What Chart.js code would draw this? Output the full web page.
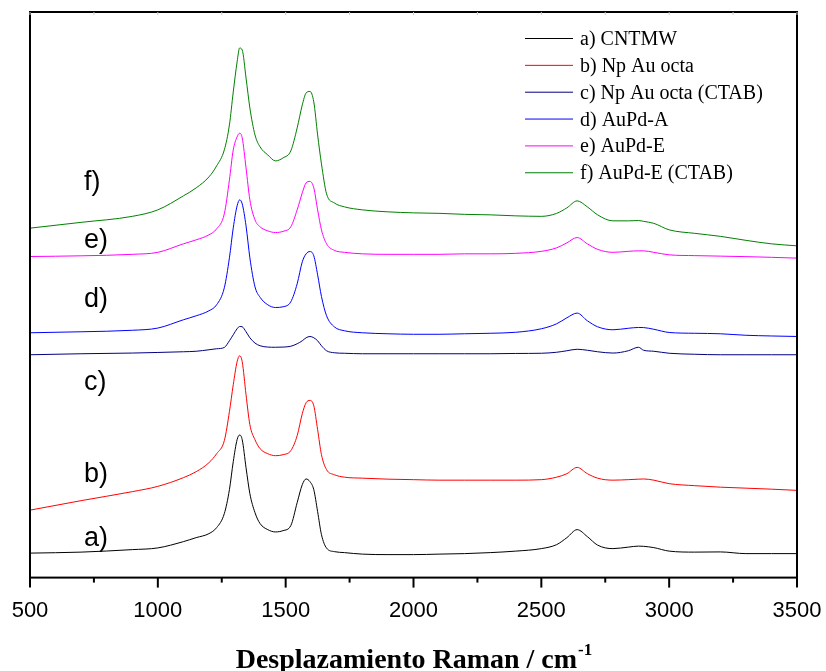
<!DOCTYPE html>
<html>
<head>
<meta charset="utf-8">
<script src="https://cdn.jsdelivr.net/npm/chart.js@4.4.1/dist/chart.umd.min.js"></script>
<style>
  html, body { margin: 0; padding: 0; background: #fff; }
  #wrap { width: 826px; height: 671px; position: relative; }
</style>
</head>
<body>
<div id="wrap"><canvas id="raman"></canvas></div>
<script>
// Raman shift (cm-1) sampled more densely around the D, G and 2D bands
const ramanShift = [500, 700, 900, 1000, 1100, 1150, 1200, 1230, 1260, 1280,
  1295, 1310, 1320, 1330, 1345, 1360, 1380, 1400, 1430, 1460,
  1490, 1520, 1545, 1565, 1580, 1595, 1610, 1625, 1640, 1660,
  1690, 1730, 1800, 1900, 2000, 2100, 2200, 2300, 2400, 2500,
  2560, 2600, 2640, 2680, 2720, 2780, 2840, 2880, 2900, 2940,
  3000, 3100, 3200, 3300, 3400, 3500];

// intensities (a.u.), spectra stacked with offsets
const cntmw = [24.5, 25.5, 28, 29.7, 36, 40, 44, 50, 64, 88,
  116, 138, 142.7, 138, 110, 84, 65, 54, 48, 45.7,
  47, 52, 75, 93, 98.7, 96, 88, 66, 43, 29.5,
  26, 25, 23.5, 23, 23, 23.5, 24, 25, 26.5, 29,
  33, 40, 48, 41, 32.5, 29, 30.5, 31.5, 31.3, 30,
  26.5, 25.5, 25.7, 24, 24, 24];
const npAuOcta = [67.5, 77, 86, 91.3, 100, 106, 115, 124, 137, 166,
  193, 216, 222, 216, 183, 153, 138, 129, 124, 122,
  123, 127, 142, 164, 175, 177.3, 172, 148, 123, 108,
  103, 100.5, 99.5, 98.5, 98, 97.5, 97.5, 97.5, 97.5, 98,
  100.5, 104, 110.3, 104, 99.5, 97.5, 98, 98.5, 98.7, 97.5,
  94, 92, 90.5, 89.5, 88.5, 87.3];
const npAuOctaCtab = [223, 224, 224.7, 225.3, 226, 226.5, 228, 229, 230.3, 237,
  243, 249, 251.3, 251, 246, 240, 234.7, 232, 230.7, 230.5,
  230.7, 231.5, 234, 237, 240, 241.3, 240, 237, 232, 227,
  225, 224.5, 224, 224, 224, 224, 224, 224, 224.3, 224.5,
  225.5, 227, 228.5, 227.5, 226, 224.7, 227, 230.5, 227.5, 226.5,
  224.5, 223.5, 223, 223, 223, 223];
const auPdA = [245, 246, 247.5, 249.7, 258, 262, 267, 273, 290, 320,
  350, 372, 378, 374, 352, 320, 291, 280.5, 273, 270.3,
  271, 276, 294, 316, 324, 326.3, 322, 303, 281.3, 262,
  251, 247, 245, 244, 243.5, 243.5, 244, 244.5, 245.5, 249,
  254, 260, 264.7, 257, 251, 248, 249.5, 250.3, 250.2, 248.5,
  245.3, 244.5, 244, 242.5, 241.8, 241.3];
const auPdE = [321.3, 322, 323.5, 325.5, 334, 338, 343, 349, 364, 398,
  428, 441, 444.7, 440, 410, 378, 358, 351, 347, 345.3,
  346.5, 351, 368, 385, 395, 396.5, 390, 368, 348, 334,
  327.5, 325.5, 324, 323.5, 323.5, 323.5, 324, 324, 324.5, 326.5,
  330, 335, 340.3, 334, 328.5, 325.5, 326.5, 327, 327, 325.5,
  323, 322.2, 321.7, 321.2, 320.5, 319.7];
const auPdECtab = [349.7, 355.5, 361.5, 368, 382, 390, 401, 412, 428, 453,
  486, 516, 530, 528, 500, 470, 443, 431, 423, 417,
  420, 427, 450, 473, 485, 486.5, 476, 443, 414, 384,
  375, 371, 368, 366, 365, 364.5, 363.5, 363, 362, 361.5,
  364.5, 370, 377, 371, 363, 357, 357, 357.3, 356.5, 354.5,
  348, 344.5, 341.5, 337.5, 334, 332];

const seriesNames = ['a) CNTMW', 'b) Np Au octa', 'c) Np Au octa (CTAB)',
  'd) AuPd-A', 'e) AuPd-E', 'f) AuPd-E (CTAB)'];
const curveTags = ['a)', 'b)', 'c)', 'd)', 'e)', 'f)'];
const xTicks = [500, 1000, 1500, 2000, 2500, 3000, 3500];

const spectra = [cntmw, npAuOcta, npAuOctaCtab, auPdA, auPdE, auPdECtab];
const colors = ['#000000', '#ff0000', '#000080', '#0000ff', '#ff00ff', '#008000'];

// baseline of each curve tag, relative to the top of the plot
const tagY = [534, 470, 378, 295, 236, 178];

const ramanDecor = {
  id: 'ramanDecor',
  afterDraw(chart) {
    const { ctx, chartArea: a } = chart;
    const x = chart.scales.x;
    ctx.save();

    // frame round the plot
    ctx.strokeStyle = '#000';
    ctx.lineWidth = 2;
    ctx.strokeRect(a.left, a.top, a.right - a.left, a.bottom - a.top);

    // bottom ticks (outward), faint ones on the top edge
    for (let v = 500; v <= 3500; v += 250) {
      const px = x.getPixelForValue(v);
      const major = xTicks.includes(v);
      ctx.strokeStyle = '#000';
      ctx.lineWidth = 2;
      ctx.beginPath();
      ctx.moveTo(px, a.bottom);
      ctx.lineTo(px, a.bottom + (major ? 10 : 5));
      ctx.stroke();
      ctx.strokeStyle = '#c8c8c8';
      ctx.lineWidth = 1;
      ctx.beginPath();
      ctx.moveTo(px, a.top);
      ctx.lineTo(px, a.top + 3);
      ctx.stroke();
    }

    // curve tags
    ctx.fillStyle = '#000';
    ctx.font = '27px "Liberation Sans", Arial, sans-serif';
    ctx.textBaseline = 'alphabetic';
    ctx.textAlign = 'left';
    curveTags.forEach((t, i) => ctx.fillText(t, a.left + 54, a.top + tagY[i]));

    // legend
    ctx.font = '20px "Liberation Serif", "Times New Roman", serif';
    chart.data.datasets.forEach((ds, i) => {
      const y = a.top + 33 + i * 26.85;
      ctx.strokeStyle = ds.borderColor;
      ctx.lineWidth = 1;
      ctx.beginPath();
      ctx.moveTo(525, y - 6.5);
      ctx.lineTo(573, y - 6.5);
      ctx.stroke();
      ctx.fillStyle = '#000';
      ctx.fillText(ds.label, 580, y);
    });

    // axis title with superscript
    const main = 'Desplazamiento Raman / cm';
    const sup = '-1';
    ctx.font = 'bold 28px "Liberation Serif", "Times New Roman", serif';
    const wMain = ctx.measureText(main).width;
    ctx.font = 'bold 17px "Liberation Serif", "Times New Roman", serif';
    const wSup = ctx.measureText(sup).width;
    const x0 = (a.left + a.right) / 2 - (wMain + wSup) / 2;
    ctx.fillStyle = '#000';
    ctx.font = 'bold 28px "Liberation Serif", "Times New Roman", serif';
    ctx.fillText(main, x0, 668);
    ctx.font = 'bold 17px "Liberation Serif", "Times New Roman", serif';
    ctx.fillText(sup, x0 + wMain + 1, 655);

    ctx.restore();
  }
};

new Chart(document.getElementById('raman'), {
  type: 'line',
  data: {
    datasets: spectra.map((s, i) => ({
      label: seriesNames[i],
      data: ramanShift.map((w, j) => ({ x: w, y: s[j] })),
      borderColor: colors[i],
      borderWidth: 1,
      pointRadius: 0,
      cubicInterpolationMode: 'monotone',
      fill: false,
    })),
  },
  options: {
    responsive: true,
    maintainAspectRatio: false,
    animation: false,
    layout: { padding: { left: 30, right: 29, top: 12, bottom: 37 } },
    plugins: {
      legend: { display: false },
      tooltip: { enabled: false },
    },
    scales: {
      x: {
        type: 'linear',
        min: 500,
        max: 3500,
        afterBuildTicks: (scale) => {
          scale.ticks = xTicks.map((v) => ({ value: v }));
        },
        // end labels may run into the page margin
        afterFit: (scale) => {
          scale.paddingLeft = 0;
          scale.paddingRight = 0;
        },
        ticks: {
          color: '#000',
          padding: 10,
          maxRotation: 0,
          callback: (v) => String(v),
          font: { family: '"Liberation Sans", Arial, sans-serif', size: 22 },
        },
        grid: { display: true, drawOnChartArea: false, color: 'transparent', tickLength: 10 },
        border: { display: false },
      },
      y: {
        display: false,
        min: 0,
        max: 566,
      },
    },
  },
  plugins: [ramanDecor],
});
</script>
</body>
</html>
